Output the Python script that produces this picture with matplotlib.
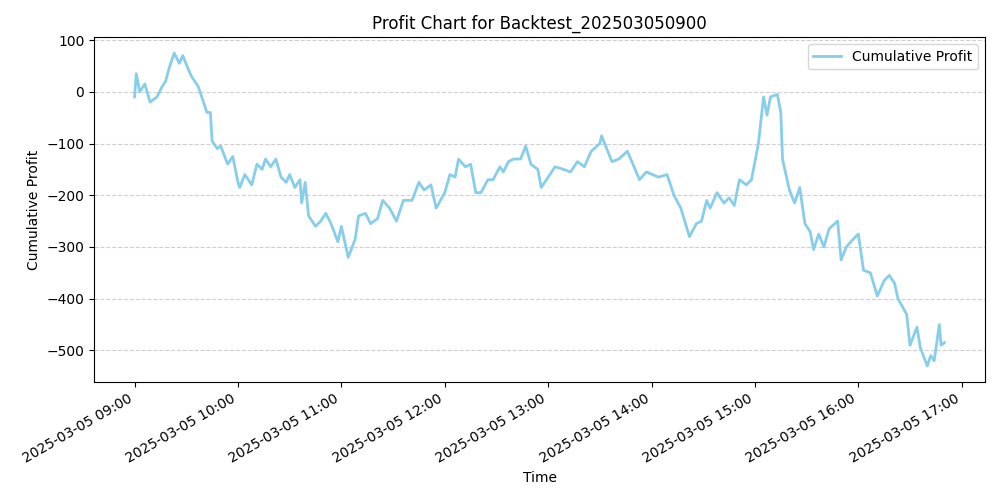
import matplotlib
matplotlib.use("Agg")
import matplotlib.pyplot as plt
import matplotlib.dates as mdates
import pandas as pd

minutes = [0,1,3,6,9,13,16,18,20,23,26,28,31,33,37,40,42,44,45,48,50,54,57,60,61,64,68,71,74,76,79,82,85,88,90,93,96,97,99,101,105,108,111,114,118,120,124,128,130,134,137,141,144,148,152,156,161,165,168,172,175,180,183,186,188,192,195,198,201,205,208,212,214,217,220,224,227,230,234,236,239,244,249,253,257,261,265,270,271,277,281,286,293,297,304,309,313,317,322,326,329,332,334,338,342,345,348,351,355,358,362,365,367,369,373,375,376,380,383,386,389,392,394,397,400,403,408,410,413,417,420,423,427,431,435,438,441,443,448,450,454,456,460,462,464,467,468,470]
profit = [-10,35,0,15,-20,-10,10,20,45,75,55,70,45,30,10,-20,-40,-40,-95,-110,-105,-140,-125,-175,-185,-160,-180,-140,-150,-130,-145,-130,-165,-175,-160,-185,-170,-215,-175,-240,-260,-250,-235,-255,-290,-260,-320,-285,-240,-235,-255,-245,-210,-225,-250,-210,-210,-175,-190,-180,-225,-195,-160,-165,-130,-145,-140,-195,-195,-170,-170,-145,-155,-135,-130,-130,-105,-140,-150,-185,-170,-145,-150,-155,-135,-145,-115,-100,-85,-135,-130,-115,-170,-155,-165,-160,-200,-225,-280,-255,-250,-210,-225,-195,-215,-205,-220,-170,-180,-170,-100,-10,-45,-10,-5,-40,-130,-190,-215,-185,-255,-270,-305,-275,-300,-265,-250,-325,-300,-285,-275,-345,-350,-395,-365,-355,-370,-400,-430,-490,-455,-495,-530,-510,-520,-450,-490,-485]

start = pd.Timestamp("2025-03-05 09:00")
times = [start + pd.Timedelta(minutes=m) for m in minutes]

fig, ax = plt.subplots(figsize=(10, 5), dpi=100)
ax.plot(times, profit, color="skyblue", linewidth=2, label="Cumulative Profit")
ax.set_title("Profit Chart for Backtest_202503050900")
ax.set_xlabel("Time")
ax.set_ylabel("Cumulative Profit")
ax.grid(axis="y", linestyle="--", alpha=0.6)
ax.legend(loc="upper right")
ax.xaxis.set_major_locator(mdates.HourLocator())
ax.xaxis.set_major_formatter(mdates.DateFormatter("%Y-%m-%d %H:%M"))
fig.autofmt_xdate()
fig.tight_layout()
fig.savefig("out.png")
